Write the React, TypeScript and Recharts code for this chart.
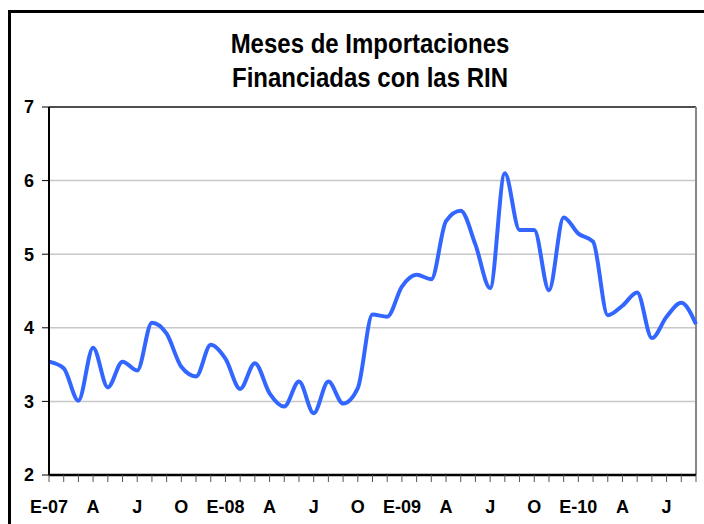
import * as React from "react";
import { LineChart, Line, XAxis, YAxis, CartesianGrid, ReferenceLine } from "recharts";

const FONT = "'Liberation Sans', Arial, sans-serif";

// monthly categories, Jan 2007 .. Sep 2010
const months = [
  "Ene-07", "Feb-07", "Mar-07", "Abr-07", "May-07", "Jun-07", "Jul-07", "Ago-07", "Sep-07", "Oct-07", "Nov-07", "Dic-07",
  "Ene-08", "Feb-08", "Mar-08", "Abr-08", "May-08", "Jun-08", "Jul-08", "Ago-08", "Sep-08", "Oct-08", "Nov-08", "Dic-08",
  "Ene-09", "Feb-09", "Mar-09", "Abr-09", "May-09", "Jun-09", "Jul-09", "Ago-09", "Sep-09", "Oct-09", "Nov-09", "Dic-09",
  "Ene-10", "Feb-10", "Mar-10", "Abr-10", "May-10", "Jun-10", "Jul-10", "Ago-10", "Sep-10",
];

// meses de importaciones
const values = [
  3.54, 3.45, 3.01, 3.73, 3.19, 3.54, 3.42, 4.07, 3.92, 3.47, 3.34, 3.77,
  3.58, 3.17, 3.52, 3.11, 2.93, 3.27, 2.84, 3.27, 2.97, 3.18, 4.18, 4.15,
  4.56, 4.72, 4.66, 5.45, 5.59, 5.13, 4.54, 6.1, 5.33, 5.33, 4.51, 5.5,
  5.28, 5.17, 4.17, 4.3, 4.48, 3.86, 4.15, 4.34, 4.05,
];

const tickLabels = [
  "E-07", "", "", "A", "", "", "J", "", "", "O", "", "",
  "E-08", "", "", "A", "", "", "J", "", "", "O", "", "",
  "E-09", "", "", "A", "", "", "J", "", "", "O", "", "",
  "E-10", "", "", "A", "", "", "J", "", "",
];

const yTicks = [2, 3, 4, 5, 6, 7];

const data = months.map((m, i) => ({ month: m, v: values[i] }));

const tickStyle = { fill: "#000", fontSize: 18, fontWeight: "bold", fontFamily: FONT } as const;

export default function App() {
  return (
    <div style={{ position: "relative", width: 704, height: 524 }}>
      <style>{`body{margin:0;overflow:hidden}`}</style>
      <LineChart width={704} height={524} data={data} margin={{ top: 107, right: 8, bottom: 9, left: 4 }}>
        <CartesianGrid vertical={false} stroke="#c8c8c8" strokeWidth={1.5} />
        <XAxis
          dataKey="month"
          interval={0}
          height={40}
          tickSize={7}
          tickMargin={18}
          tickFormatter={(_v: string, i: number) => tickLabels[i] ?? ""}
          axisLine={{ stroke: "#000", strokeWidth: 2.5 }}
          tickLine={{ stroke: "#555" }}
          tick={tickStyle}
        />
        <YAxis
          domain={[2, 7]}
          ticks={yTicks}
          width={45}
          tickSize={7}
          tickMargin={8}
          axisLine={{ stroke: "#000", strokeWidth: 2 }}
          tickLine={{ stroke: "#000" }}
          tick={tickStyle}
        />
        <ReferenceLine y={7} stroke="#222" strokeWidth={1.5} />
        <ReferenceLine x={months[months.length - 1]} stroke="#888" strokeWidth={2} />
        <Line
          type="monotone"
          dataKey="v"
          stroke="#3366ff"
          strokeWidth={4}
          dot={false}
          isAnimationActive={false}
        />
      </LineChart>
      <svg width={704} height={524} style={{ position: "absolute", left: 0, top: 0, pointerEvents: "none" }}>
        <path d="M9.5 524 V11.5 H704" fill="none" stroke="#000" strokeWidth={3} />
        <g fontFamily={FONT} fontWeight="bold" fontSize={24} textAnchor="middle" fill="#000">
          <text transform="translate(370,53) scale(1,1.15)">Meses de Importaciones</text>
          <text transform="translate(370,87) scale(1,1.15)">Financiadas con las RIN</text>
        </g>
      </svg>
    </div>
  );
}
